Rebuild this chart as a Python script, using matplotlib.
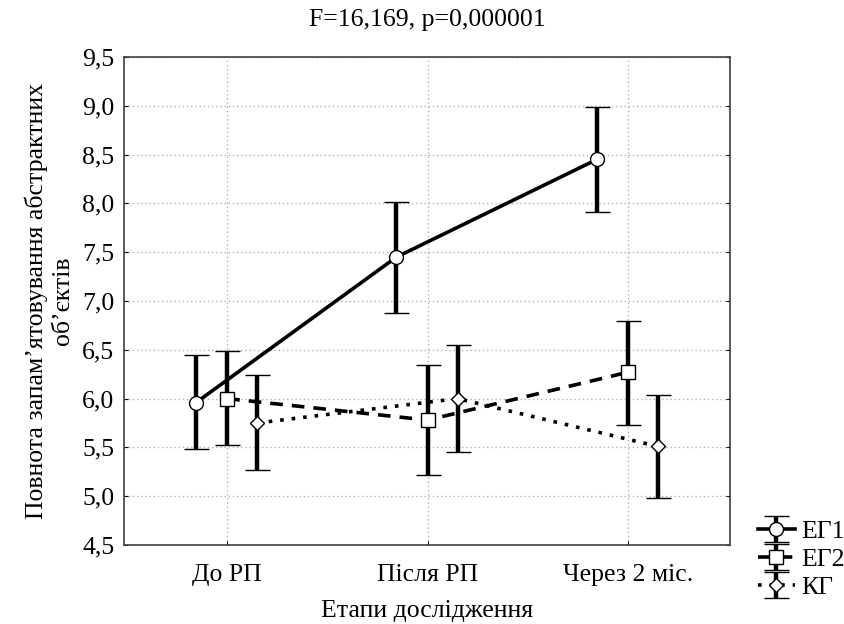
import numpy as np
import matplotlib.pyplot as plt

plt.rcParams['font.family'] = ['Liberation Serif', 'DejaVu Serif']

stages = ['До РП', 'Після РП', 'Через 2 міс.']
groups = ['ЕГ1', 'ЕГ2', 'КГ']

eg1_mean = [5.96, 7.45, 8.45]
eg1_low = [5.48, 6.88, 7.91]
eg1_high = [6.45, 8.01, 8.99]

eg2_mean = [6.00, 5.78, 6.27]
eg2_low = [5.52, 5.22, 5.73]
eg2_high = [6.49, 6.34, 6.80]

kg_mean = [5.75, 6.00, 5.51]
kg_low = [5.27, 5.45, 4.98]
kg_high = [6.24, 6.55, 6.04]

fs = 18.5

fig = plt.figure(figsize=(8.44, 6.24), dpi=100)
ax = fig.add_axes([124/844, 1 - 545/624, 606/844, 488/624])

x = np.arange(len(stages))
offsets = [-0.155, 0.0, 0.15]
styles = [('-', 'o', 10), ((0, (3.5, 2.5)), 's', 10), ((0, (1, 2.2)), 'D', 7.5)]
series = [(eg1_mean, eg1_low, eg1_high),
          (eg2_mean, eg2_low, eg2_high),
          (kg_mean, kg_low, kg_high)]

handles = []
for (m, lo, hi), off, (ls, mk, ms), name in zip(series, offsets, styles, groups):
    m = np.array(m)
    err = [m - np.array(lo), np.array(hi) - m]
    h = ax.errorbar(x + off, m, yerr=err, color='black', ls=ls, lw=2.6,
                    marker=mk, ms=ms, mfc='white', mec='black', mew=1,
                    ecolor='black', elinewidth=3.2, capsize=9, capthick=3.2,
                    label=name, zorder=3)
    handles.append(h)

ax.set_xlim(-0.515, 2.51)
ax.set_ylim(4.5, 9.5)
ax.set_xticks(x)
ax.set_xticklabels(stages)
yt = np.arange(4.5, 9.51, 0.5)
ax.set_yticks(yt)
ax.set_yticklabels([f'{v:.1f}'.replace('.', ',') for v in yt])
ax.tick_params(direction='in', length=3, labelsize=fs, right=True)
ax.tick_params(axis='y', pad=7)
ax.tick_params(axis='x', pad=14)
ax.grid(True, color='#b0b0b0', ls=(0, (1, 2)), lw=1)
for s in ax.spines.values():
    s.set_color('#404040')
    s.set_linewidth(1.2)

ax.set_xlabel('Етапи дослідження', fontsize=fs, labelpad=10)
ax.set_ylabel('Повнота запам’ятовування абстрактних\nоб’єктів', fontsize=fs, labelpad=6)
ax.set_title('F=16,169, p=0,000001', fontsize=fs, pad=22)

fig.legend(handles=handles, labels=groups, loc='lower left',
           bbox_to_anchor=(745/844, 1 - 612/624), frameon=False, fontsize=fs,
           handlelength=1.45, handletextpad=0.25, labelspacing=0.2, borderpad=0)

fig.savefig('out.png', dpi=100)
